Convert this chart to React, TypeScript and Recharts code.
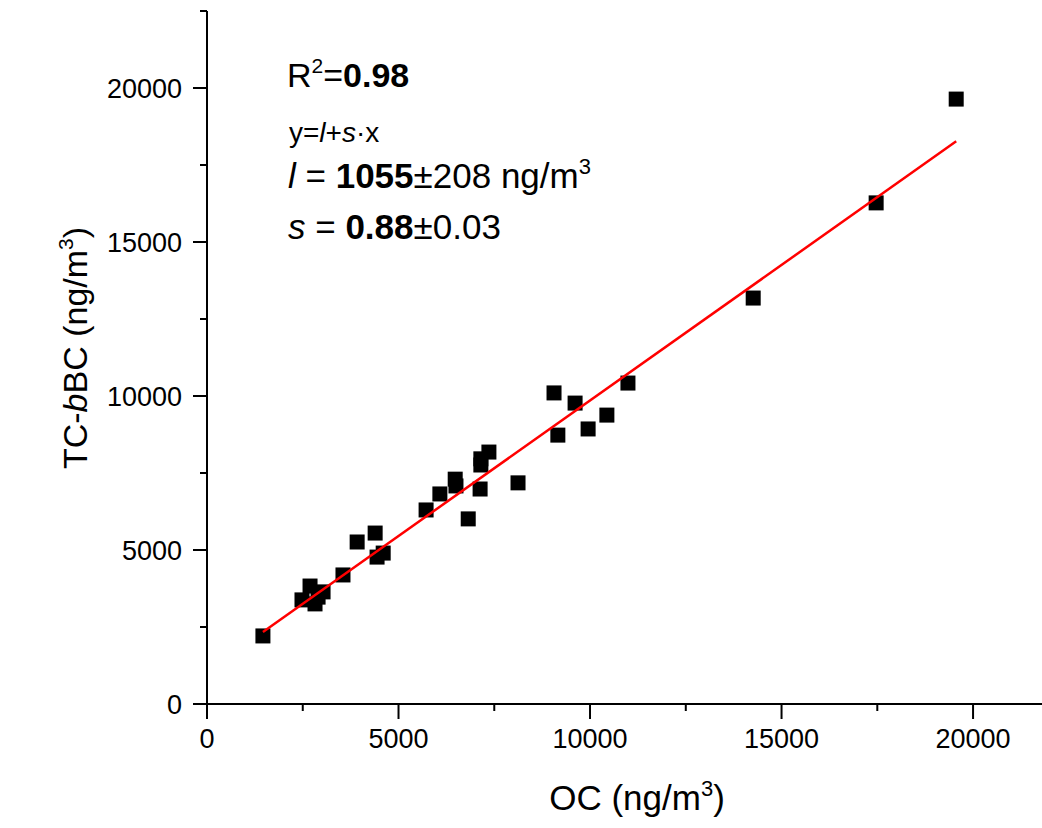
import React from 'react';
import { ScatterChart, Scatter, XAxis, YAxis } from 'recharts';

// OC vs TC-bBC, ng/m3
const ocValues = [
  1460, 2480, 2690, 2820, 2900, 3030, 3550, 3920, 4390, 4440,
  4600, 5720, 6080, 6480, 6500, 6820, 7130, 7150, 7150, 7360,
  8120, 9060, 9160, 9610, 9950, 10440, 10990, 14260, 17470, 19560,
];
const tcValues = [
  2210, 3380, 3830, 3250, 3470, 3640, 4190, 5260, 5550, 4770,
  4900, 6300, 6820, 7300, 7080, 6010, 6980, 7960, 7760, 8180,
  7180, 10100, 8730, 9770, 8930, 9380, 10420, 13180, 16270, 19640,
];

const xTicks = [0, 2500, 5000, 7500, 10000, 12500, 15000, 17500, 20000];
const yTicks = [0, 2500, 5000, 7500, 10000, 12500, 15000, 17500, 20000, 22500];

// fit: y = l + s*x
const intercept = 1055;
const slope = 0.88;

const points = ocValues.map((oc, i) => ({ x: oc, y: tcValues[i] }));
const xMin = Math.min(...ocValues);
const xMax = Math.max(...ocValues);
const fitLine = [
  { x: xMin, y: intercept + slope * xMin },
  { x: xMax, y: intercept + slope * xMax },
];

const FONT = '"Liberation Sans", Arial, sans-serif';

const XTick = ({ x, y, payload }: any) => {
  const major = payload.value % 5000 === 0;
  return (
    <g>
      <line x1={x} y1={y} x2={x} y2={y + (major ? 15 : 7)} stroke="#000" strokeWidth={2} />
      {major && (
        <text x={x} y={y + 44} textAnchor="middle" fontSize={27} fontFamily={FONT} fill="#000">
          {payload.value}
        </text>
      )}
    </g>
  );
};

const YTick = ({ x, y, payload }: any) => {
  const major = payload.value % 5000 === 0;
  return (
    <g>
      <line x1={x - (major ? 14 : 7)} y1={y} x2={x} y2={y} stroke="#000" strokeWidth={2} />
      {major && (
        <text x={x - 25} y={y + 10} textAnchor="end" fontSize={27} fontFamily={FONT} fill="#000">
          {payload.value}
        </text>
      )}
    </g>
  );
};

const Square = ({ cx, cy }: any) => (
  <rect x={cx - 7.5} y={cy - 7.5} width={15} height={15} fill="#000" />
);

export default function App() {
  return (
    <div style={{ position: 'absolute', left: 0, top: 0, width: 1042, height: 828, background: '#fff' }}>
      <ScatterChart width={1042} height={828} margin={{ top: 11, right: 0, bottom: 0, left: 0 }}>
        <XAxis
          type="number"
          dataKey="x"
          domain={[0, 21800]}
          ticks={xTicks}
          interval={0}
          height={124}
          tickSize={0}
          tickMargin={0}
          tickLine={false}
          tick={<XTick />}
          axisLine={{ stroke: '#000', strokeWidth: 2 }}
          allowDataOverflow
        />
        <YAxis
          type="number"
          dataKey="y"
          domain={[0, 22500]}
          ticks={yTicks}
          interval={0}
          width={207}
          tickSize={0}
          tickMargin={0}
          tickLine={false}
          tick={<YTick />}
          axisLine={{ stroke: '#000', strokeWidth: 2 }}
          allowDataOverflow
        />
        <Scatter data={points} shape={<Square />} isAnimationActive={false} />
        <Scatter
          data={fitLine}
          line={{ stroke: '#ff0000', strokeWidth: 2.5 }}
          shape={() => <g />}
          isAnimationActive={false}
        />
      </ScatterChart>
      <svg
        width={1042}
        height={828}
        style={{ position: 'absolute', left: 0, top: 0, pointerEvents: 'none' }}
        fontFamily={FONT}
        fill="#000"
      >
        <text x={287} y={87} fontSize={34}>
          R<tspan dy={-14} fontSize={21}>2</tspan>
          <tspan dy={14}>=</tspan>
          <tspan fontWeight="bold">0.98</tspan>
        </text>
        <text x={289} y={142} fontSize={28}>
          y=<tspan fontStyle="italic">l</tspan>+<tspan fontStyle="italic">s</tspan>·x
        </text>
        <text x={288} y={188} fontSize={35}>
          <tspan fontStyle="italic">l</tspan> = <tspan fontWeight="bold">1055</tspan>±208 ng/m
          <tspan dy={-14} fontSize={22}>3</tspan>
        </text>
        <text x={288} y={239} fontSize={35}>
          <tspan fontStyle="italic">s</tspan> = <tspan fontWeight="bold">0.88</tspan>±0.03
        </text>
        <text x={637} y={810} fontSize={35} textAnchor="middle">
          OC (ng/m<tspan dy={-14} fontSize={22}>3</tspan>
          <tspan dy={14}>)</tspan>
        </text>
        <text x={87} y={348} fontSize={34} textAnchor="middle" transform="rotate(-90 87 348)">
          TC-<tspan fontStyle="italic">b</tspan>BC (ng/m<tspan dy={-14} fontSize={21}>3</tspan>
          <tspan dy={14}>)</tspan>
        </text>
      </svg>
    </div>
  );
}
